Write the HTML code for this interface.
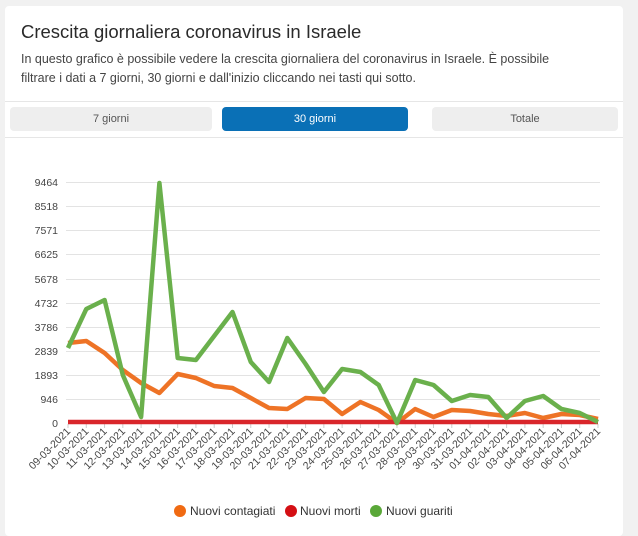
<!DOCTYPE html>
<html><head><meta charset="utf-8"><style>
body{margin:0;width:638px;height:528px;background:#f1f1f1;font-family:"Liberation Sans",sans-serif;overflow:hidden;position:relative}
.card{position:absolute;left:5px;top:6px;width:618px;height:530px;background:#fff;border-radius:4px}
h1{position:absolute;left:16px;top:15px;margin:0;font-size:18.5px;font-weight:normal;color:#2a2a2a}
p{position:absolute;left:16px;top:44px;margin:0;font-size:12.5px;line-height:19px;color:#444;width:555px}
.hr{position:absolute;left:0;width:618px;height:1px;background:#e6e6e6}
.b{position:absolute;top:101px;height:24px;line-height:24px;text-align:center;font-size:11px;border-radius:4px;background:#eee;color:#555}
</style></head><body>
<div class="card">
<h1>Crescita giornaliera coronavirus in Israele</h1>
<p>In questo grafico è possibile vedere la crescita giornaliera del coronavirus in Israele. È possibile filtrare i dati a 7 giorni, 30 giorni e dall'inizio cliccando nei tasti qui sotto.</p>
<div class="hr" style="top:95px"></div>
<div class="b" style="left:5px;width:202px">7 giorni</div>
<div class="b" style="left:217px;width:186px;background:#0a70b6;color:#fff">30 giorni</div>
<div class="b" style="left:427px;width:186px">Totale</div>
<div class="hr" style="top:131px"></div>
</div>
<svg width="638" height="528" style="position:absolute;left:0;top:0" font-family="Liberation Sans, sans-serif">
<g stroke="#e3e3e3" stroke-width="1">
<line x1="66" x2="600" y1="182.5" y2="182.5"/><line x1="66" x2="600" y1="206.5" y2="206.5"/><line x1="66" x2="600" y1="230.5" y2="230.5"/><line x1="66" x2="600" y1="254.5" y2="254.5"/><line x1="66" x2="600" y1="279.5" y2="279.5"/><line x1="66" x2="600" y1="303.5" y2="303.5"/><line x1="66" x2="600" y1="327.5" y2="327.5"/><line x1="66" x2="600" y1="351.5" y2="351.5"/><line x1="66" x2="600" y1="375.5" y2="375.5"/><line x1="66" x2="600" y1="399.5" y2="399.5"/>
</g>
<g font-size="10.5" fill="#444" text-anchor="end">
<text x="58" y="186">9464</text><text x="58" y="210">8518</text><text x="58" y="234">7571</text><text x="58" y="258">6625</text><text x="58" y="283">5678</text><text x="58" y="307">4732</text><text x="58" y="331">3786</text><text x="58" y="355">2839</text><text x="58" y="379">1893</text><text x="58" y="403">946</text><text x="58" y="427">0</text>
</g>
<g id="xl" font-size="10.5" fill="#444" text-anchor="end"></g>
<polyline id="o" fill="none" stroke="#ee7326" stroke-width="4.5" stroke-linejoin="round"/>
<polyline id="r" fill="none" stroke="#d9262b" stroke-width="4.5"/>
<polyline id="g" fill="none" stroke="#6ab04c" stroke-width="4.5" stroke-linejoin="round"/>
<circle cx="180" cy="511" r="6" fill="#f06a12"/><text x="190" y="515" font-size="12" fill="#333">Nuovi contagiati</text>
<circle cx="291" cy="511" r="6" fill="#d40f14"/><text x="300" y="515" font-size="12" fill="#333">Nuovi morti</text>
<circle cx="376" cy="511" r="6" fill="#5aa838"/><text x="386" y="515" font-size="12" fill="#333">Nuovi guariti</text>
</svg>
<script>
var G=[348,309,300,375,417,183,358,360,336,312,362,382,338,364,392,369,372,385,423,380,385,401,395,397,418,401,396,409,413,422];
var O=[343,341,353,370,383,393,374,378,386,388,398,408,409,398,399,414,402,410,423,409,417,410,411,414,416,413,418,414,415,419];
var d=["09-03","10-03","11-03","12-03","13-03","14-03","15-03","16-03","17-03","18-03","19-03","20-03","21-03","22-03","23-03","24-03","25-03","26-03","27-03","28-03","29-03","30-03","31-03","01-04","02-04","03-04","04-04","05-04","06-04","07-04"];
function X(i){return 68+i*530/29}
function pts(a){return a.map(function(v,i){return X(i).toFixed(1)+","+v}).join(" ")}
document.getElementById("o").setAttribute("points",pts(O));
document.getElementById("g").setAttribute("points",pts(G));
document.getElementById("r").setAttribute("points",pts(G.map(function(){return 422})));
var s="";for(var i=0;i<30;i++){var x=X(i);s+='<line x1="'+x+'" x2="'+x+'" y1="424" y2="428" stroke="#ccc"/><text transform="translate('+(x+3)+',432) rotate(-45)">'+d[i]+'-2021</text>';}
document.getElementById("xl").innerHTML=s;
</script>
</body></html>
